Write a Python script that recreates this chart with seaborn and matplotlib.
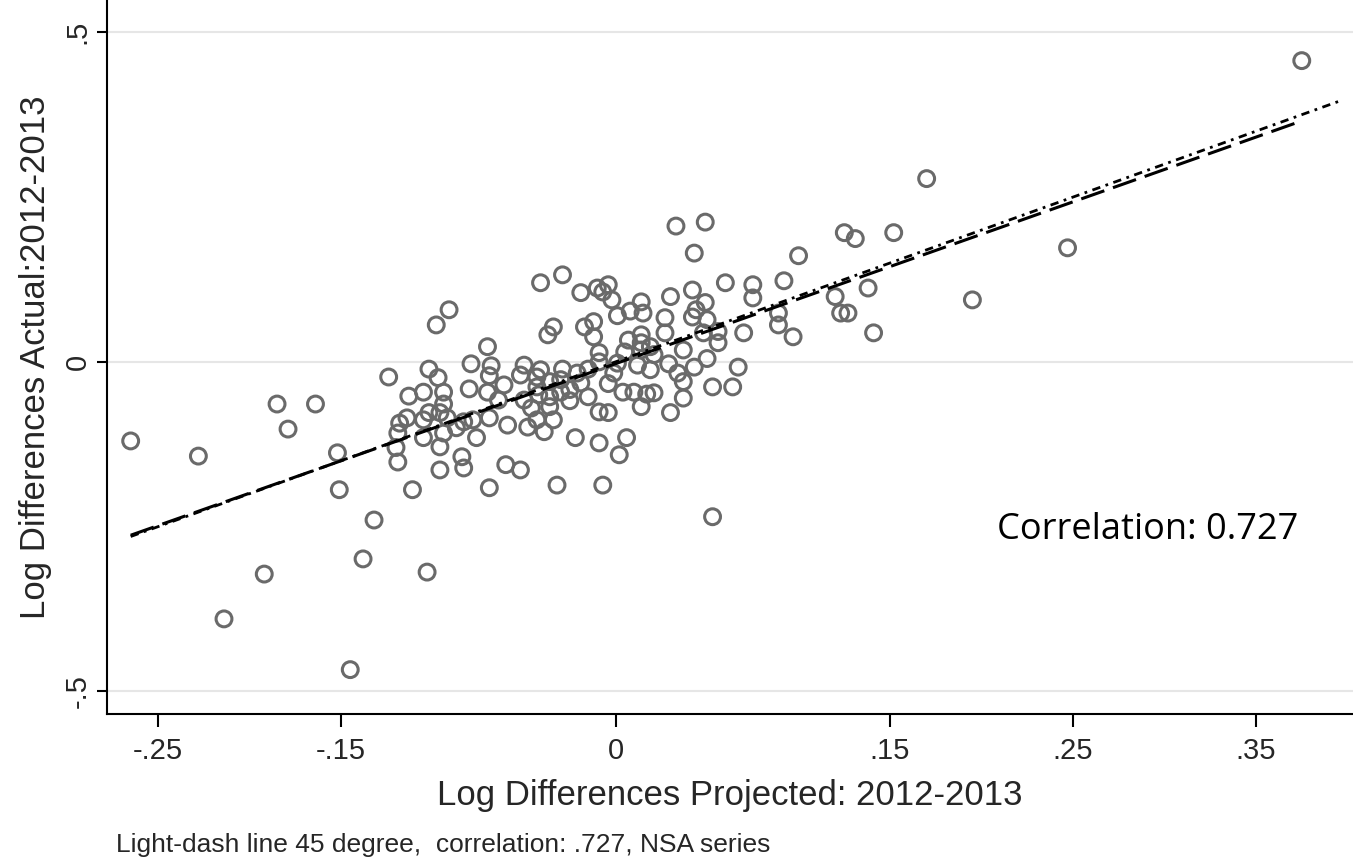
import numpy as np
import pandas as pd
import seaborn as sns
import matplotlib.pyplot as plt

# projected vs actual log differences
proj = [
    -0.265, -0.228, -0.214, -0.192, -0.185, -0.179, -0.164, -0.152, -0.151, -0.145,
    -0.138, -0.132, -0.124, -0.103, -0.111, -0.069,
    -0.120, -0.119, -0.096, -0.084, -0.083, -0.076, -0.069, -0.087, -0.096, -0.094,
    -0.105, -0.119, -0.118, -0.114, -0.102, -0.105, -0.113, -0.094, -0.094, -0.092,
    -0.080, -0.070, -0.105, -0.078, -0.060, -0.059, -0.069, -0.061, -0.064, -0.097,
    -0.102, -0.096, -0.083,
    -0.091, -0.098, -0.070, -0.079, -0.068,
    -0.041, -0.029, -0.037, -0.034, -0.019, -0.010, -0.004, -0.007, -0.002, 0.001,
    0.008, 0.014, 0.015, -0.017, -0.012, -0.012, 0.027, 0.030, 0.042, 0.043,
    0.042, 0.027, 0.014, 0.007, 0.014, -0.009, -0.009, 0.005, 0.014, 0.021,
    0.037, 0.043, 0.029, 0.034, 0.037, 0.019, 0.012, -0.001, -0.004, 0.004,
    0.010, 0.017, 0.021, 0.014, 0.030, 0.037, -0.015, -0.029, -0.030, -0.036,
    -0.043, -0.050, -0.046, -0.043, -0.039, -0.022, -0.009, 0.006, 0.002, -0.009,
    -0.004, -0.025, -0.036, -0.019, -0.050, -0.041, -0.015, 0.001, -0.052, -0.043,
    -0.036, -0.030, -0.025, -0.042, -0.048, -0.034, -0.052, -0.032, -0.007, -0.021,
    0.033, 0.049, 0.100, 0.060, 0.075, 0.075, 0.092, 0.049, 0.044, 0.050,
    0.048, 0.056, 0.056, 0.070, 0.089, 0.089, 0.097, 0.019, 0.050, 0.067,
    0.053, 0.064, 0.053,
    0.170, 0.125, 0.131, 0.152, 0.138, 0.120, 0.123, 0.127, 0.141, 0.195,
    0.247, 0.375,
]
actual = [
    -0.120, -0.143, -0.390, -0.322, -0.064, -0.102, -0.064, -0.138, -0.194, -0.467,
    -0.299, -0.240, -0.023, -0.319, -0.194, -0.191,
    -0.130, -0.152, -0.164, -0.144, -0.161, -0.115, -0.085, -0.100, -0.129, -0.108,
    -0.115, -0.108, -0.093, -0.085, -0.077, -0.046, -0.052, -0.046, -0.064, -0.085,
    -0.041, -0.046, -0.088, -0.088, -0.156, -0.096, -0.021, -0.035, -0.058, -0.024,
    -0.011, -0.077, -0.091,
    0.079, 0.056, 0.023, -0.003, -0.006,
    0.120, 0.132, 0.041, 0.053, 0.105, 0.112, 0.117, 0.106, 0.094, 0.070,
    0.077, 0.091, 0.074, 0.053, 0.061, 0.038, 0.067, 0.099, 0.109, 0.165,
    0.068, 0.044, 0.041, 0.033, 0.029, 0.014, 0.000, 0.015, 0.018, 0.011,
    0.018, -0.008, -0.003, -0.017, -0.030, -0.012, -0.005, -0.017, -0.033, -0.046,
    -0.046, -0.049, -0.047, -0.068, -0.077, -0.055, -0.053, -0.011, -0.027, -0.053,
    -0.038, -0.058, -0.070, -0.088, -0.106, -0.115, -0.123, -0.115, -0.141, -0.076,
    -0.077, -0.059, -0.068, -0.032, -0.005, -0.012, -0.011, -0.002, -0.020, -0.023,
    -0.030, -0.046, -0.042, -0.050, -0.099, -0.088, -0.164, -0.187, -0.187, -0.017,
    0.206, 0.212, 0.161, 0.120, 0.117, 0.097, 0.123, 0.090, 0.079, 0.064,
    0.044, 0.046, 0.029, 0.044, 0.074, 0.056, 0.038, 0.023, 0.005, -0.008,
    -0.038, -0.038, -0.235,
    0.278, 0.196, 0.187, 0.196, 0.112, 0.099, 0.074, 0.074, 0.044, 0.094,
    0.173, 0.457,
]
diag_range = [-0.265, 0.395]   # 45 degree line
xticks = [-0.25, -0.15, 0, 0.15, 0.25, 0.35]
xtick_labels = ["-.25", "-.15", "0", ".15", ".25", ".35"]
yticks = [-0.5, 0, 0.5]
ytick_labels = ["-.5", "0", ".5"]

df = pd.DataFrame({"proj": proj, "actual": actual})
slope, icpt = np.polyfit(df["proj"], df["actual"], 1)
fit = pd.DataFrame({"x": [df["proj"].min(), df["proj"].max()]})
fit["y"] = icpt + slope * fit["x"]
diag = pd.DataFrame({"x": diag_range, "y": diag_range})

sns.set_theme(style="white")
plt.rcParams['font.family'] = ['Liberation Sans Narrow', 'Liberation Sans', 'DejaVu Sans']

fig = plt.figure(figsize=(13.53, 8.6), dpi=100)
ax = fig.add_axes([0.079, 0.170, 0.921, 0.830])

for yv in yticks:
    ax.axhline(yv, color="#e6e6e6", lw=1.5, zorder=0)

sns.scatterplot(data=df, x="proj", y="actual", ax=ax, s=130, facecolor="none",
                edgecolor="#6a6a6a", linewidth=2.2, zorder=3)
sns.lineplot(data=diag, x="x", y="y", ax=ax, color="black", lw=2.0,
             dashes=False, zorder=4).lines[-1].set_dashes([3, 2, 1, 2])
sns.lineplot(data=fit, x="x", y="y", ax=ax, color="black", lw=2.2, zorder=4).lines[-1].set_dashes([8, 3])

ax.set_xlim(-0.278, 0.403)
ax.set_ylim(-0.534, 0.549)
ax.set_xticks(xticks)
ax.set_xticklabels(xtick_labels, fontsize=21)
ax.set_yticks(yticks)
ax.set_yticklabels(ytick_labels, fontsize=21, rotation=90, va="center")
ax.tick_params(axis="x", length=9, width=1.5, color="black", pad=8, direction="out", bottom=True)
ax.tick_params(axis="y", length=7, width=1.5, color="black", pad=4, direction="out", left=True)

for side in ["top", "right"]:
    ax.spines[side].set_visible(False)
for side in ["left", "bottom"]:
    ax.spines[side].set_color("black")
    ax.spines[side].set_linewidth(1.5)

ax.set_xlabel("Log Differences Projected: 2012-2013", fontsize=25, labelpad=10)
ax.set_ylabel("Log Differences Actual:2012-2013", fontsize=25, labelpad=8)

ax.text(0.291, -0.255, "Correlation: 0.727", fontsize=26, family=["Open Sans", "DejaVu Sans"],
        ha="center", va="center", color="black")
fig.text(0.086, 0.004, "Light-dash line 45 degree,  correlation: .727, NSA series",
         fontsize=19, ha="left", va="bottom")

fig.savefig("out.png", dpi=100)
